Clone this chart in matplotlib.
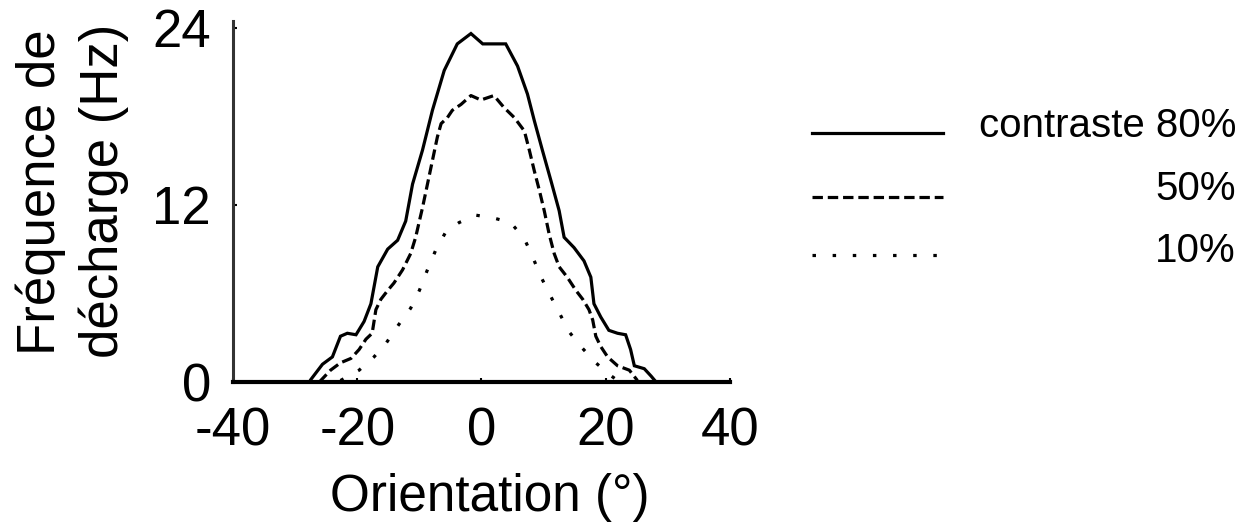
import matplotlib
matplotlib.use("Agg")
import matplotlib.pyplot as plt

plt.rcParams['font.family'] = ['Liberation Sans', 'DejaVu Sans']
plt.rcParams['lines.scale_dashes'] = False
plt.rcParams['axes.unicode_minus'] = False

# Data (orientation in degrees, firing rate in Hz)
x80 = [-40, -27.7, -27.5, -25.6, -24.0, -22.7, -21.6, -20.2, -18.9, -17.8, -16.7, -15.1, -13.5,
       -12.2, -11.1, -9.5, -7.9, -6.0, -3.9, -1.7, 0.2, 2.0, 3.9, 5.8, 7.4, 8.5, 9.8,
       11.2, 12.5, 13.3, 14.9, 16.5, 17.6, 18.1, 19.2, 20.5, 21.9, 23.2, 24.0, 24.6,
       26.2, 27.3, 28.1, 40]
y80 = [0, 0, 0.15, 1.2, 1.7, 3.1, 3.3, 3.2, 4.1, 5.3, 7.8, 9.0, 9.6,
       10.9, 13.4, 15.7, 18.4, 21.1, 22.9, 23.6, 22.9, 22.9, 22.9, 21.4, 19.5, 17.7, 15.7,
       13.6, 11.6, 9.8, 9.1, 8.2, 7.1, 5.3, 4.4, 3.5, 3.3, 3.2, 2.2, 1.1,
       0.9, 0.4, 0, 0]

x50 = [-26.1, -24.3, -22.7, -21.0, -19.7, -18.6, -17.6, -17.0, -16.2, -15.1, -14.1, -12.7,
       -11.4, -10.6, -10.0, -9.5, -8.7, -7.9, -7.1, -6.5, -5.5, -4.7, -3.3, -1.7, -0.1,
       2.0, 3.6, 5.3, 6.9, 7.7, 8.5, 9.3, 10.1, 10.9, 11.7, 12.5, 13.8, 15.2, 16.3, 17.3,
       17.9, 18.4, 19.2, 20.3, 21.9, 23.8, 25.1]
y50 = [0, 0.8, 1.3, 1.6, 2.2, 2.9, 3.3, 4.9, 5.6, 6.2, 6.7, 7.6,
       8.7, 9.8, 10.9, 11.8, 13.4, 15.0, 16.6, 17.5, 17.9, 18.4, 18.8, 19.4, 19.1,
       19.4, 18.6, 17.9, 17.0, 15.7, 14.3, 13.0, 11.6, 10.0, 8.7, 7.8, 7.1, 6.2, 5.6, 4.9,
       4.2, 3.1, 2.4, 1.7, 1.1, 0.8, 0.1]

x10 = [-22.7, -19.7, -17.3, -15.4, -13.3, -11.4, -10.0, -8.7, -7.4, -5.7, -3.6, -0.9,
       2.0, 4.7, 6.9, 8.2, 9.6, 10.9, 12.5, 14.1, 16.0, 18.4, 20.6, 21.9]
y10 = [0.1, 0.8, 1.7, 2.6, 3.9, 5.0, 6.2, 7.6, 8.9, 10.2, 10.8, 11.3,
       11.1, 10.8, 9.7, 8.5, 7.1, 6.0, 4.7, 3.4, 2.4, 1.3, 0.5, 0.1]

xticks = [-40, -20, 0, 20, 40]
yticks = [0, 12, 24]
labels = ["contraste 80%", "50%", "10%"]

W, H = 1242, 525
fig = plt.figure(figsize=(W / 100, H / 100), dpi=100)
ax = fig.add_axes([233 / W, 1 - 382 / H, (730 - 233) / W, (382 - 21) / H])

lw = 2.3
dash = (0, (7.5, 3.5))
dot = (0, (2.5, 12))
ax.plot(x80, y80, color='black', lw=lw, solid_joinstyle='miter')
ax.plot(x50, y50, color='black', lw=lw, linestyle=dash)
ax.plot(x10, y10, color='black', lw=lw, linestyle=dot)

ax.set_xlim(-40, 40)
ax.set_ylim(0, 24.45)
ax.set_xticks(xticks)
ax.set_yticks(yticks)
ax.tick_params(direction='in', length=3, width=1.5, labelsize=38)
ax.tick_params(axis='y', pad=16)
ax.tick_params(axis='x', pad=18)
for s in ['top', 'right']:
    ax.spines[s].set_visible(False)
ax.spines['left'].set_linewidth(2.2)
ax.spines['bottom'].set_linewidth(3)
ax.spines['left'].set_color('#333333')

# x-axis label
fig.text(490 / W, 1 - 511 / H, "Orientation (°)", fontsize=37,
         ha='center', va='baseline')

# y-axis label (two lines)
fig.text(55 / W, 1 - 192 / H, "Fréquence de", rotation=90, fontsize=38,
         ha='center', va='baseline', rotation_mode='anchor')
fig.text(118 / W, 1 - 191 / H, "décharge (Hz)", rotation=90, fontsize=38,
         ha='center', va='baseline', rotation_mode='anchor')

# Legend drawn manually
ly = [133, 197, 255]
styles = ['-', dash, dot]
for yy, st in zip(ly, styles):
    fig.add_artist(plt.Line2D([812 / W, 943 / W], [1 - yy / H, 1 - yy / H],
                              color='black', lw=lw, linestyle=st,
                              transform=fig.transFigure))
ty = [137, 200, 262]
for yy, t in zip(ty, labels):
    fig.text(1236 / W, 1 - yy / H, t, fontsize=29, ha='right', va='baseline')

fig.savefig("out.png", dpi=100)
